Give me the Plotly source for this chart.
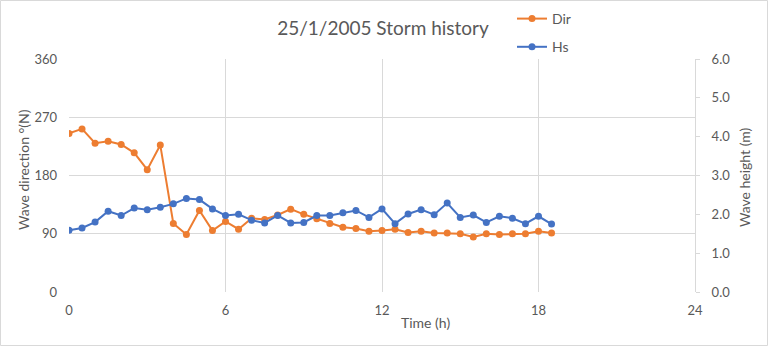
import plotly.graph_objects as go

time_h = [0, 0.5, 1, 1.5, 2, 2.5, 3, 3.5, 4, 4.5, 5, 5.5, 6, 6.5, 7, 7.5, 8, 8.5, 9, 9.5,
          10, 10.5, 11, 11.5, 12, 12.5, 13, 13.5, 14, 14.5, 15, 15.5, 16, 16.5, 17, 17.5, 18, 18.5]
dir_deg = [245, 252, 230, 233, 228, 215, 189, 227, 106, 89, 126, 95, 109, 97, 114, 112, 119, 128, 120, 113,
           106, 100, 98, 94, 95, 97, 92, 94, 91, 91, 90, 85, 90, 89, 90, 90, 94, 91]
hs_m = [1.59, 1.65, 1.80, 2.08, 1.97, 2.16, 2.12, 2.18, 2.27, 2.41, 2.38, 2.14, 1.97, 2.00, 1.85, 1.78, 1.97, 1.78, 1.79, 1.97,
        1.97, 2.04, 2.10, 1.92, 2.14, 1.76, 2.01, 2.12, 1.99, 2.29, 1.92, 1.98, 1.79, 1.95, 1.90, 1.76, 1.95, 1.75]

x_ticks = [0, 6, 12, 18, 24]
dir_ticks = [0, 90, 180, 270, 360]
hs_ticks = [0, 1, 2, 3, 4, 5, 6]

FONT = "Lato"
GREY = "#595959"
GRID = "#d9d9d9"
ORANGE = "#ED7D31"
BLUE = "#4472C4"

L, R, T, B = 69, 73, 59, 54
W, H = 768, 346
pw, ph = W - L - R, H - T - B

fig = go.Figure()
fig.add_trace(go.Scatter(x=time_h, y=dir_deg, name="Dir", mode="lines+markers",
                         line=dict(color=ORANGE, width=2), marker=dict(size=7, color=ORANGE),
                         legendgroup="a", yaxis="y"))
fig.add_trace(go.Scatter(x=time_h, y=hs_m, name="Hs", mode="lines+markers",
                         line=dict(color=BLUE, width=2), marker=dict(size=7, color=BLUE),
                         legendgroup="b", yaxis="y2"))

fig.update_layout(
    width=W, height=H,
    margin=dict(l=L, r=R, t=T, b=B, pad=0, autoexpand=False),
    paper_bgcolor="white", plot_bgcolor="white",
    font=dict(family=FONT, color=GREY, size=13),
    title=dict(text="25/1/2005 Storm history", x=(383) / W, xanchor="center",
               y=1 - 28 / H, yanchor="middle", font=dict(size=19, color=GREY, family=FONT)),
    xaxis=dict(range=[0, 24], tickvals=x_ticks, showgrid=True, gridcolor=GRID, gridwidth=1,
               zeroline=False, showline=False, ticks="", ticklabelstandoff=9,
               tickfont=dict(size=13, color=GREY), automargin=False),
    yaxis=dict(range=[0, 360], tickvals=dir_ticks, showgrid=True, gridcolor=GRID, gridwidth=1,
               zeroline=False, showline=False, ticks="", ticklabelstandoff=11,
               tickfont=dict(size=13, color=GREY), automargin=False),
    yaxis2=dict(range=[0, 6], tickvals=hs_ticks, tickformat=".1f", overlaying="y", side="right",
                showgrid=False, zeroline=False, showline=True, linecolor=GRID, linewidth=1,
                ticks="outside", ticklen=4, tickcolor=GRID, ticklabelstandoff=9,
                tickfont=dict(size=13, color=GREY), automargin=False),
    legend=dict(x=(512 - L) / pw, y=1 + (T - 3) / ph, xanchor="left", yanchor="top",
                font=dict(size=14, color=GREY), bgcolor="rgba(0,0,0,0)", tracegroupgap=7),
    showlegend=True,
)

fig.add_annotation(text="Time (h)", xref="paper", yref="paper",
                   x=(399 - L) / pw, y=-(322 - T - ph) / ph, showarrow=False,
                   font=dict(size=14, color=GREY), xanchor="left", yanchor="middle")
fig.add_annotation(text="Wave direction °(N)", xref="paper", yref="paper",
                   x=(23 - L) / pw, y=(T + ph - 170) / ph, textangle=-90, showarrow=False,
                   font=dict(size=14, color=GREY), xanchor="center", yanchor="middle")
fig.add_annotation(text="Wave height (m)", xref="paper", yref="paper",
                   x=(744 - L) / pw, y=(T + ph - 177) / ph, textangle=-90, showarrow=False,
                   font=dict(size=14, color=GREY), xanchor="center", yanchor="middle")

fig.add_shape(type="rect", xref="paper", yref="paper",
              x0=(0.5 - L) / pw, x1=(W - 0.5 - L) / pw,
              y0=-(B - 0.5) / ph, y1=(ph + T - 0.5) / ph,
              line=dict(color=GRID, width=1), fillcolor="rgba(0,0,0,0)", layer="below")

fig.write_html("out.html")
